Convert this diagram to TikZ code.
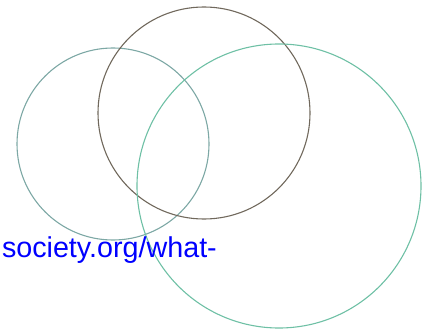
\documentclass[tikz,border=0pt]{standalone}
\usepackage{fontspec}
\setmainfont{Liberation Sans}
\definecolor{leftc}{RGB}{125,168,165}
\definecolor{brownc}{RGB}{112,104,92}
\definecolor{greenc}{RGB}{110,192,165}
\definecolor{linkc}{RGB}{0,0,255}
\begin{document}
\begin{tikzpicture}[x=1pt,y=1pt,
  ring/.style={line width=1.1pt},
  link/.style={text=linkc,font=\fontsize{28.7}{30}\selectfont,inner sep=0pt,anchor=base west}]
\useasboundingbox (0,0) rectangle (425,335);
\draw[ring,leftc] (113,191) circle[radius=96];
\draw[ring,brownc] (204,222) circle[radius=106];
\draw[ring,greenc] (279,149) circle[radius=142];
\node[link] (url) at (1.8,78) {society.org/what-};
\end{tikzpicture}
\end{document}
